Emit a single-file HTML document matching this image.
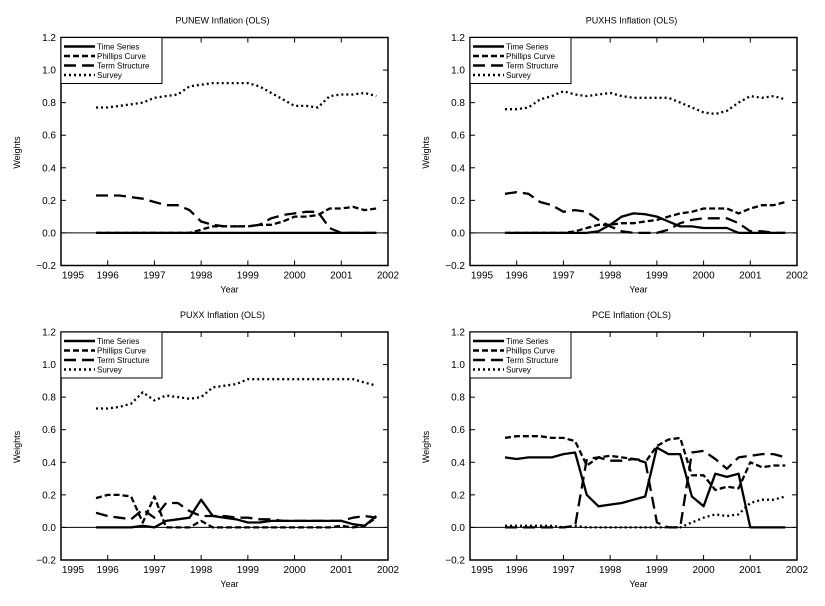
<!DOCTYPE html>
<html><head><meta charset="utf-8"><style>
html,body{margin:0;padding:0;background:#fff;}
svg{display:block;font-family:"Liberation Sans",sans-serif;}
</style></head><body>
<svg id="c" width="825" height="606" viewBox="0 0 825 606"></svg>
<script>
const years = [1995.75,1996,1996.25,1996.5,1996.75,1997,1997.25,1997.5,1997.75,1998,1998.25,1998.5,1998.75,1999,1999.25,1999.5,1999.75,2000,2000.25,2000.5,2000.75,2001,2001.25,2001.5,2001.75];
const xTicks = [1995,1996,1997,1998,1999,2000,2001,2002];
const yTicks = [-0.2,0.0,0.2,0.4,0.6,0.8,1.0,1.2];
const seriesNames = ["Time Series","Phillips Curve","Term Structure","Survey"];
const titles = ["PUNEW Inflation (OLS)","PUXHS Inflation (OLS)","PUXX Inflation (OLS)","PCE Inflation (OLS)"];

const p1TS = [0,0,0,0,0,0,0,0,0,0,0,0,0,0,0,0,0,0,0,0,0,0,0,0,0];
const p1PC = [0,0,0,0,0,0,0,0,0,0.02,0.04,0.04,0.04,0.04,0.05,0.05,0.07,0.10,0.10,0.11,0.15,0.15,0.16,0.14,0.15];
const p1TE = [0.23,0.23,0.23,0.22,0.21,0.19,0.17,0.17,0.14,0.07,0.05,0.04,0.04,0.04,0.05,0.09,0.11,0.12,0.13,0.13,0.03,0,0,0,0];
const p1SV = [0.77,0.77,0.78,0.79,0.80,0.83,0.84,0.85,0.90,0.91,0.92,0.92,0.92,0.92,0.90,0.86,0.82,0.78,0.78,0.77,0.84,0.85,0.85,0.86,0.84];

const p2TS = [0,0,0,0,0,0,0,0,0.01,0.05,0.10,0.12,0.115,0.10,0.07,0.04,0.04,0.03,0.03,0.03,0,0,0,0,0];
const p2PC = [0,0,0,0,0,0,0.01,0.03,0.05,0.05,0.06,0.06,0.07,0.08,0.10,0.12,0.13,0.15,0.15,0.15,0.12,0.15,0.17,0.17,0.19];
const p2TE = [0.24,0.25,0.24,0.19,0.17,0.13,0.14,0.13,0.08,0.04,0.01,0,0,0,0.02,0.06,0.08,0.09,0.09,0.09,0.06,0.01,0.01,0,0];
const p2SV = [0.76,0.76,0.77,0.82,0.84,0.87,0.85,0.84,0.85,0.86,0.84,0.83,0.83,0.83,0.83,0.80,0.77,0.74,0.73,0.75,0.80,0.84,0.83,0.84,0.82];

const p3TS = [0,0,0,0,0.01,0,0.04,0.05,0.06,0.17,0.07,0.06,0.05,0.03,0.03,0.04,0.04,0.04,0.04,0.04,0.04,0.04,0.02,0.01,0.07];
const p3PC = [0.18,0.20,0.20,0.19,0.03,0.19,0,0,0,0.04,0,0,0,0,0,0,0,0,0,0,0,0.01,0,0.01,0.06];
const p3TE = [0.09,0.07,0.06,0.05,0.11,0.06,0.15,0.15,0.10,0.07,0.07,0.07,0.06,0.06,0.05,0.05,0.04,0.04,0.04,0.04,0.04,0.04,0.06,0.07,0.06];
const p3SV = [0.73,0.73,0.74,0.76,0.83,0.78,0.81,0.80,0.79,0.80,0.86,0.87,0.88,0.91,0.91,0.91,0.91,0.91,0.91,0.91,0.91,0.91,0.91,0.89,0.87];

const p4TS = [0.43,0.42,0.43,0.43,0.43,0.45,0.46,0.20,0.13,0.14,0.15,0.17,0.19,0.49,0.45,0.45,0.19,0.13,0.33,0.31,0.33,0,0,0,0];
const p4PC = [0.55,0.56,0.56,0.56,0.55,0.55,0.53,0.38,0.43,0.44,0.43,0.42,0.40,0.50,0.54,0.55,0.32,0.32,0.23,0.25,0.24,0.40,0.37,0.38,0.38];
const p4TE = [0,0,0,0,0,0,0.01,0.42,0.43,0.41,0.41,0.42,0.41,0.03,0,0,0.46,0.47,0.42,0.36,0.43,0.44,0.45,0.45,0.43];
const p4SV = [0.01,0.01,0.01,0.01,0.01,0,0.01,0,0,0,0,0,0,0,0,0,0.03,0.06,0.08,0.07,0.08,0.15,0.17,0.17,0.19];

const panelData = [[p1TS,p1PC,p1TE,p1SV],[p2TS,p2PC,p2TE,p2SV],[p3TS,p3PC,p3TE,p3SV],[p4TS,p4PC,p4TE,p4SV]];
const styles = [
  {dash:"none",w:2.3},
  {dash:"6,3",w:2.3},
  {dash:"12,6",w:2.3},
  {dash:"2,3",w:2.3}
];
const origins = [[61,37.5],[470,37.5],[61,332],[470,332]];
const PW = 327, PH = 228;
const NS = "http://www.w3.org/2000/svg";
const svg = document.getElementById('c');
function mk(tag, attrs, parent){
  const e = document.createElementNS(NS, tag);
  for (const k in attrs) e.setAttribute(k, attrs[k]);
  (parent||svg).appendChild(e);
  return e;
}
panelData.forEach((series, pi) => {
  const [ox, oy] = origins[pi];
  const xs = v => ox + (v - 1995) / 7 * PW;
  const ys = v => oy + (1.2 - v) / 1.4 * PH;
  const g = mk('g', {});
  
  
  const t = mk('text', {x: ox + PW/2 - 2, y: oy - 14, 'text-anchor':'middle', 'font-size':9, fill:'#000'}, g);
  t.textContent = titles[pi];
  
  
  const zl = mk('line', {x1:ox, x2:ox+PW, y1:ys(0), y2:ys(0), stroke:'#000', 'stroke-width':1}, g);
  
  
  yTicks.forEach(v => {
    const y = ys(v);
    mk('line', {x1:ox, x2:ox+5, y1:y, y2:y, stroke:'#000'}, g);
    mk('line', {x1:ox+PW-5, x2:ox+PW, y1:y, y2:y, stroke:'#000'}, g);
    const tl = mk('text', {x: ox - 5, y: y + 3.5, 'text-anchor':'end', 'font-size':10}, g);
    tl.textContent = (v < 0 ? '\u2212' + Math.abs(v).toFixed(1) : v.toFixed(1));
    
    
  });
  xTicks.forEach((v, i) => {
    const x = xs(v);
    mk('line', {x1:x, x2:x, y1:oy+PH, y2:oy+PH-5, stroke:'#000'}, g);
    mk('line', {x1:x, x2:x, y1:oy, y2:oy+5, stroke:'#000'}, g);
    const tl = mk('text', {x: x + (i === 0 ? 12 : 0), y: oy + PH + 13, 'text-anchor':'middle', 'font-size':10}, g);
    tl.textContent = v;
    
    
  });
  const xl = mk('text', {x: ox + PW/2 + 5, y: oy + PH + 27, 'text-anchor':'middle', 'font-size':9}, g);
  xl.textContent = 'Year';
  
  
  const yl = mk('text', {x: 0, y: 0, 'text-anchor':'middle', 'font-size':9, transform:`translate(${ox-41},${oy+PH/2+1}) rotate(-90)`}, g);
  yl.textContent = 'Weights';
  
  
  series.forEach((vals, si) => {
    const pts = vals.map((v, i) => xs(years[i]).toFixed(1) + ',' + ys(v).toFixed(1)).join(' ');
    const pl = mk('polyline', {points: pts, fill:'none', stroke:'#000', 'stroke-width':styles[si].w, 'stroke-dasharray':styles[si].dash, 'stroke-linejoin':'round'}, g);
    
    
  });
  const fr = mk('rect', {x:ox, y:oy, width:PW, height:PH, fill:'none', stroke:'#000', 'stroke-width':1.5}, g);
  
  
  const lg = mk('g', {}, g);
  
  
  mk('rect', {x:ox, y:oy, width:101, height:46, fill:'#fff', stroke:'#000', 'stroke-width':1}, lg);
  seriesNames.forEach((n, si) => {
    const y = oy + 9 + si * 9.5;
    mk('line', {x1:ox+3, x2:ox+34, y1:y, y2:y, stroke:'#000', 'stroke-width':2.5, 'stroke-dasharray':styles[si].dash}, lg);
    const lt = mk('text', {x: ox + 36, y: y + 3, 'font-size':8}, lg);
    lt.textContent = n;
    
    
  });
});
</script>
</body></html>
